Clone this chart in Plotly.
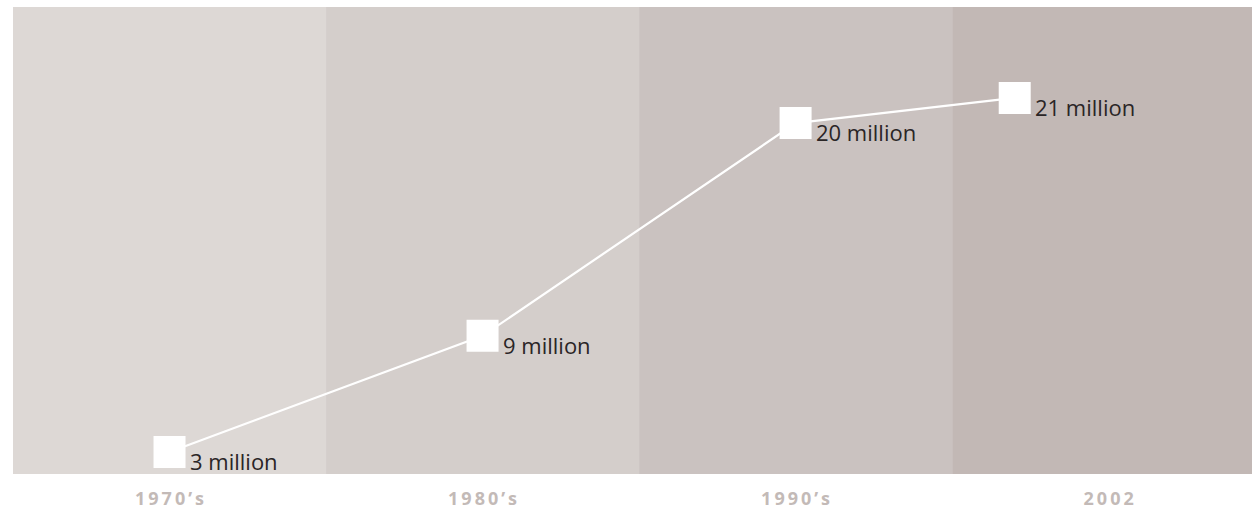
import plotly.graph_objects as go

# Data
periods = ["1970\u2019s", "1980\u2019s", "1990\u2019s", "2002"]
years = [1975, 1985, 1995, 2002]          # position of each point on the time axis
values = [3, 9, 20, 21.3]                 # millions
value_labels = ["3 million", "9 million", "20 million", "21 million"]
tick_positions = [1975, 1985, 1995, 2005]
band_starts = [1970, 1980, 1990, 2000]
band_ends = [1980, 1990, 2000, 2010]
band_colors = ["#ddd8d5", "#d4cecb", "#cac2c0", "#c2b8b5"]

def spaced(s):
    return "\u2009".join(list(s))

fig = go.Figure()

fig.add_trace(go.Scatter(
    x=years, y=values, mode="lines+markers",
    line=dict(color="white", width=2.2),
    marker=dict(symbol="square", size=32, color="white", line=dict(width=0)),
    hoverinfo="skip", showlegend=False,
))

shapes = []
for s, e, c in zip(band_starts, band_ends, band_colors):
    shapes.append(dict(type="rect", xref="x", yref="paper", x0=s, x1=e, y0=0, y1=1,
                       fillcolor=c, line=dict(width=0), layer="below"))

annotations = []
for x, y, t in zip(years, values, value_labels):
    annotations.append(dict(x=x, y=y, xref="x", yref="y", text=t, showarrow=False,
                            xanchor="left", yanchor="middle", xshift=18, yshift=-9,
                            font=dict(family="Open Sans", size=22, color="#2a2526")))

fig.update_layout(
    width=1252, height=515,
    margin=dict(l=13, r=0, t=7, b=41),
    paper_bgcolor="white", plot_bgcolor="white",
    shapes=shapes, annotations=annotations,
    xaxis=dict(range=[1970, 2009.58], showgrid=False, zeroline=False, showline=False,
               tickmode="array", tickvals=tick_positions,
               ticktext=["<b>" + spaced(p) + "</b>" for p in periods],
               ticks="", ticklen=0, ticklabelstandoff=12,
               tickfont=dict(family="Open Sans", size=18, color="#c3bab7")),
    yaxis=dict(range=[1.86, 26.0], showgrid=False, zeroline=False, showline=False,
               showticklabels=False, ticks=""),
)

fig.write_html("out.html")
